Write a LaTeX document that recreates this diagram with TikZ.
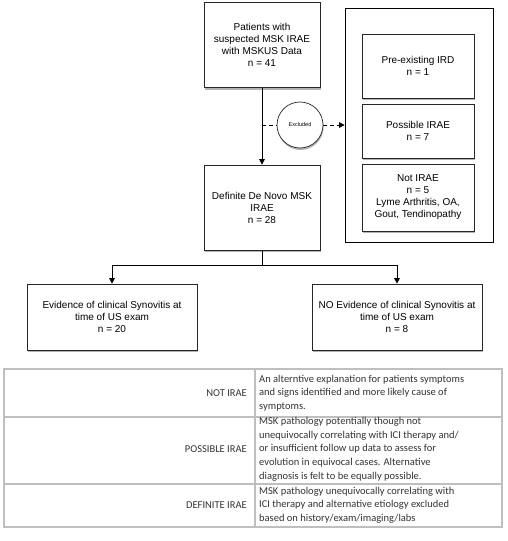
\documentclass[tikz,border=0pt]{standalone}
\usepackage{fontspec}
\setmainfont{Liberation Sans}
\newfontfamily\tablefont{Carlito}
\usetikzlibrary{arrows.meta,shadows}

\begin{document}
\begin{tikzpicture}[x=1pt,y=-1pt,
    flowbox/.style={draw=black!85,line width=0.7pt,fill=white,align=center,inner sep=2pt,
      font=\fontsize{10}{12}\selectfont,
      drop shadow={shadow xshift=0.6pt,shadow yshift=-2pt,opacity=0.6}},
    flowline/.style={line width=0.7pt},
    flowarrow/.style={flowline,-{Triangle[length=5.5pt,width=5.5pt]}},
    gridline/.style={draw=black!25,line width=1.2pt},
    tabletext/.style={font=\tablefont\fontsize{10.5}{13.7}\selectfont,text=black!80,inner sep=2pt,align=left}]
                \useasboundingbox (0,0) rectangle (508,541);
                % flow chart
                \node[flowbox,minimum width=116pt,minimum height=85pt] (patients) at (262,45) {Patients with\\suspected MSK IRAE\\with MSKUS Data\\n = 41};
                \node[flowbox,minimum width=116pt,minimum height=85pt] (denovo) at (262,207.5) {Definite De Novo MSK\\IRAE\\n = 28};
                \node[flowbox,circle,minimum size=46pt,inner sep=0pt,font=\fontsize{5.5}{6}\selectfont] (excluded) at (300,125) {Excluded};
                \node[draw,flowline,minimum width=148pt,minimum height=234pt] (excbox) at (419,125) {};
                \node[flowbox,minimum width=112pt,minimum height=64pt] (preird) at (418,66) {Pre-existing IRD\\n = 1};
                \node[flowbox,minimum width=112pt,minimum height=54pt] (possible) at (418,131) {Possible IRAE\\n = 7};
                \node[flowbox,minimum width=112pt,minimum height=67pt] (notirae) at (418,197.5) {Not IRAE\\n = 5\\Lyme Arthritis, OA,\\Gout, Tendinopathy};
                \node[flowbox,minimum width=170pt,minimum height=66pt] (synyes) at (112,317) {Evidence of clinical Synovitis at\\time of US exam\\n = 20};
                \node[flowbox,minimum width=170pt,minimum height=66pt] (synno) at (397,317) {NO Evidence of clinical Synovitis at\\time of US exam\\n = 8};
                \coordinate (branch) at (262,125);
                \coordinate (split) at (262,265);
                \draw[flowarrow] (patients) -- (denovo);
                \draw[flowline,dash pattern=on 4pt off 3pt] (branch) -- (excluded);
                \draw[flowarrow,dash pattern=on 4pt off 3pt] (excluded) -- (excbox);
                \draw[flowline] (denovo) -- (split);
                \draw[flowarrow] (split) -| (synyes);
                \draw[flowarrow] (split) -| (synno);
                % definitions table
                \draw[gridline] (4,369) rectangle (502,527);
                \draw[gridline] (255,369)--(255,527);
                \draw[gridline] (4,417)--(502,417);
                \draw[gridline] (4,484)--(502,484);
                \node[tabletext,anchor=east] (notlbl) at (249,393) {NOT IRAE};
                \node[tabletext,anchor=east] (posslbl) at (249,449) {POSSIBLE IRAE};
                \node[tabletext,anchor=east] (deflbl) at (249,505) {DEFINITE IRAE};
                \node[tabletext,anchor=west] (notdef) at (257,393) {An alterntive explanation for patients symptoms\\and signs identified and more likely cause of\\symptoms.};
                \node[tabletext,anchor=west] (possdef) at (257,449) {MSK pathology potentially though not\\unequivocally correlating with ICI therapy and/\\or insufficient follow up data to assess for\\evolution in equivocal cases. Alternative\\diagnosis is felt to be equally possible.};
                \node[tabletext,anchor=west] (defdef) at (257,505) {MSK pathology unequivocally correlating with\\ICI therapy and alternative etiology excluded\\based on history/exam/imaging/labs};
            \end{tikzpicture}
\end{document}
